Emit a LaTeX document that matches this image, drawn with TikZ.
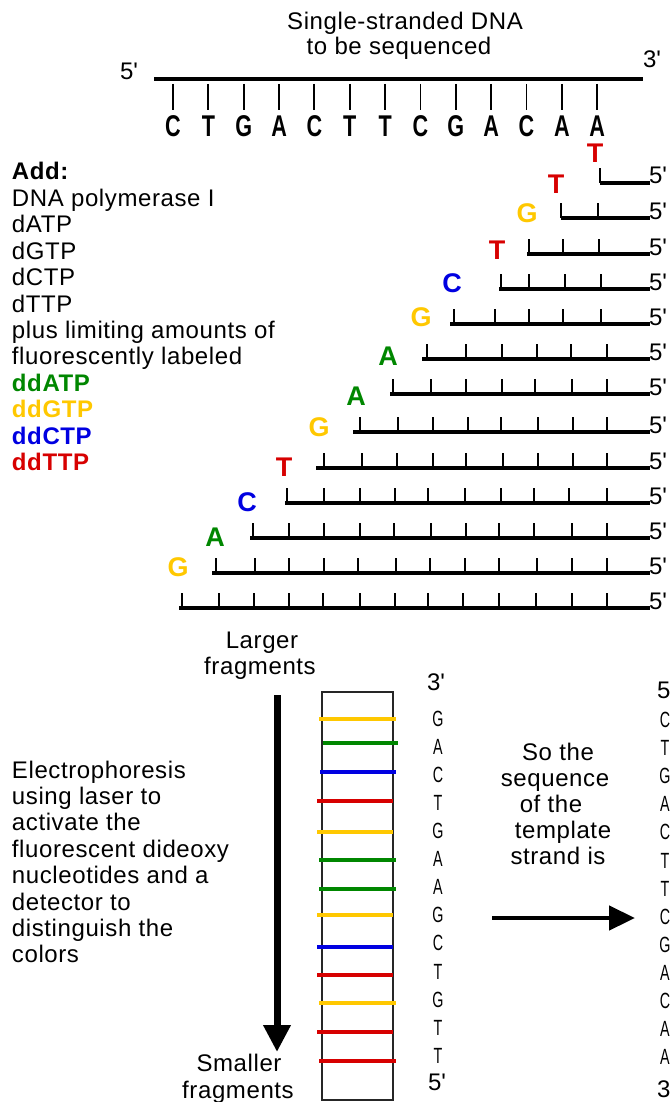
\documentclass[tikz,border=0pt]{standalone}
\usepackage{fontspec}
\setmainfont{Liberation Sans}[LetterSpace=2.5]
\usetikzlibrary{arrows.meta}
\definecolor{dnared}{RGB}{215,0,0}
\definecolor{dnagreen}{RGB}{0,135,0}
\definecolor{dnagold}{RGB}{255,200,0}
\definecolor{dnablue}{RGB}{0,0,225}
\newcommand\bodyfont{\fontsize{24}{26.4}\selectfont}
\newcommand\nucfont{\fontsize{27}{27}\selectfont\bfseries}
\newcommand\tmplfont{\fontsize{30}{30}\selectfont\bfseries}
\newcommand\colfont{\fontsize{22}{22}\selectfont}
\newcommand\primesym{\textquotesingle}
\begin{document}
\begin{tikzpicture}[x=1pt,y=-1pt,
  txt/.style={inner sep=0pt,outer sep=0pt,font=\bodyfont,anchor=base west},
  ctxt/.style={txt,anchor=base},
  nuc/.style={inner sep=0pt,outer sep=0pt,font=\nucfont,anchor=center},
  tmpl/.style={inner sep=0pt,outer sep=0pt,font=\tmplfont,anchor=center},
  collet/.style={inner sep=0pt,outer sep=0pt,font=\colfont,anchor=center},
  strandline/.style={line width=4pt},
  fragline/.style={line width=3.2pt},
  tickline/.style={line width=1.9pt},
  band/.style={line width=4.5pt},
  gel/.style={line width=1.5pt,draw=black!85},
]
\useasboundingbox (0,0) rectangle (671,1102);
\fill[white] (0,0) rectangle (671,1102);

% title
\node[ctxt] (title1) at (405,30) {Single-stranded DNA};
\node[ctxt] (title2) at (399,55) {to be sequenced};

% template strand
\node[txt] (t5) at (120,80) {5\primesym};
\node[txt] (t3) at (643,68) {3\primesym};
\coordinate (tL) at (154,79);
\coordinate (tR) at (643,79);
\draw[strandline] (tL) -- (tR);
\foreach \i/\b in {0/C,1/T,2/G,3/A,4/C,5/T,6/T,7/C,8/G,9/A,10/C,11/A,12/A}{
  \coordinate (tk\i) at ({173+35.35*\i},84);
  \draw[tickline] (tk\i) -- ++(0,26);
  \node[tmpl] (tb\i) at ({173+35.35*\i},126) {\scalebox{0.72}[1]{\b}};
}

% list of reagents
\node[txt] (add) at (12,180) {\textbf{Add:}};
\node[txt] (pol) at (12,206.4) {DNA polymerase I};
\node[txt] (datp) at (12,232.8) {dATP};
\node[txt] (dgtp) at (12,259.2) {dGTP};
\node[txt] (dctp) at (12,285.6) {dCTP};
\node[txt] (dttp) at (12,312) {dTTP};
\node[txt] (plus) at (12,338.4) {plus limiting amounts of};
\node[txt] (fluo) at (12,364.8) {fluorescently labeled};
\node[txt,text=dnagreen] (ddatp) at (12,391.2) {\textbf{ddATP}};
\node[txt,text=dnagold] (ddgtp) at (12,417.6) {\textbf{ddGTP}};
\node[txt,text=dnablue] (ddctp) at (12,444) {\textbf{ddCTP}};
\node[txt,text=dnared] (ddttp) at (12,470.4) {\textbf{ddTTP}};

% fragments
\foreach \r/\yy/\sx/\tk/\nl/\cl/\lx/\ly in {
 1/183/600/{600}/T/dnared/595/153,
 2/218/561/{561,598}/T/dnared/556/184,
 3/254/527/{529,563,599}/G/dnagold/527/213,
 4/289/499/{501,529,565,601}/T/dnared/497/250,
 5/324/450/{454,495,529,563,601}/C/dnablue/452/283,
 6/359/422/{427,466,502,537,571,607}/G/dnagold/421/317,
 7/394/390/{393,431,466,502,535,572,607}/A/dnagreen/388/356,
 8/432/353/{360,398,433,468,501,538,573,607}/A/dnagreen/356/396,
 9/468/316/{324,362,397,433,466,503,538,573,607}/G/dnagold/319/427,
 10/503/285/{287,324,360,395,428,465,501,534,569,607}/T/dnared/284/467,
 11/538/250/{253,289,324,360,394,431,466,499,534,572,607}/C/dnablue/247/502,
 12/573/212/{216,255,289,324,358,396,430,465,499,537,572,607}/A/dnagreen/215/537,
 13/608/179/{182,219,254,289,323,360,395,428,463,499,536,572,607}/G/dnagold/178/567}{
  \coordinate (fs\r) at (\sx,\yy);
  \coordinate (fe\r) at (650,\yy);
  \draw[fragline] (fs\r) -- (fe\r);
  \foreach \tx in \tk {\draw[tickline] (\tx,\yy) -- (\tx,\yy-15);}
  \node[txt] (f5\r) at (649,\yy+1) {5\primesym};
  \node[nuc,text=\cl] (n\r) at (\lx,\ly) {\nl};
}

% electrophoresis part
\node[ctxt] (larger1) at (262,648) {Larger};
\node[ctxt] (larger2) at (260,674) {fragments};
\node[ctxt] (smaller1) at (239,1071) {Smaller};
\node[ctxt] (smaller2) at (238,1098) {fragments};
\coordinate (vaS) at (277,695);
\coordinate (vaE) at (277,1052);
\draw[line width=7pt,-{Triangle[length=27pt,width=26pt]}] (vaS) -- (vaE);

\node[txt] (el1) at (12,778) {Electrophoresis};
\node[txt] (el2) at (12,804.4) {using laser to};
\node[txt] (el3) at (12,830.8) {activate the};
\node[txt] (el4) at (12,857.2) {fluorescent dideoxy};
\node[txt] (el5) at (12,883.6) {nucleotides and a};
\node[txt] (el6) at (12,910) {detector to};
\node[txt] (el7) at (12,936.4) {distinguish the};
\node[txt] (el8) at (12,962.8) {colors};

% gel
\draw[gel] (322,692) rectangle (393,1100);
\foreach \yy/\cl/\xa/\xb in {719/dnagold/319/396, 743/dnagreen/323/398,
  772/dnablue/320/396, 801/dnared/317/393, 832/dnagold/317/393,
  860/dnagreen/319/396, 889/dnagreen/319/396, 915/dnagold/317/393,
  947/dnablue/317/393, 975/dnared/317/393, 1003/dnagold/319/396,
  1032/dnared/317/393, 1061/dnared/319/396}{
  \draw[band,draw=\cl] (\xa,\yy) -- (\xb,\yy);
}

% read-out columns
\node[txt] (c3) at (427,690) {3\primesym};
\node[txt] (c5) at (428,1090) {5\primesym};
\foreach \i/\b in {0/G,1/A,2/C,3/T,4/G,5/A,6/A,7/G,8/C,9/T,10/G,11/T,12/T}{
  \node[collet] (cl\i) at (438,{719+28.05*\i}) {\scalebox{0.65}[1]{\b}};
}
\node[txt] (r5) at (657,698) {5\primesym};
\node[txt] (r3) at (657,1097) {3\primesym};
\foreach \i/\b in {0/C,1/T,2/G,3/A,4/C,5/T,6/T,7/C,8/G,9/A,10/C,11/A,12/A}{
  \node[collet] (cr\i) at (665,{720+28.1*\i}) {\scalebox{0.65}[1]{\b}};
}

\node[ctxt] (so1) at (558,760) {So the};
\node[ctxt] (so2) at (555,786) {sequence};
\node[ctxt] (so3) at (551,812) {of the};
\node[ctxt] (so4) at (563,838) {template};
\node[ctxt] (so5) at (558,864) {strand is};
\coordinate (haS) at (492,918);
\coordinate (haE) at (635,918);
\draw[line width=4.5pt,-{Triangle[length=26pt,width=24pt]}] (haS) -- (haE);
\end{tikzpicture}
\end{document}
